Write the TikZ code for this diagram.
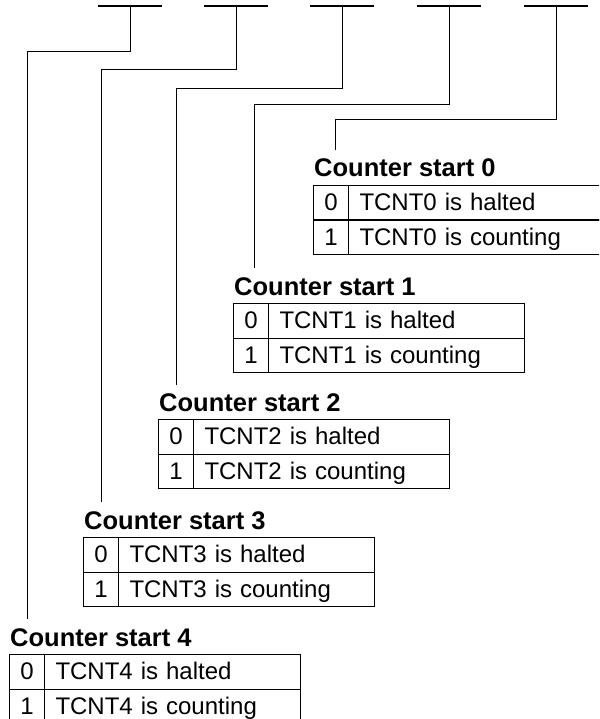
\documentclass[tikz,border=0pt]{standalone}
\usepackage{fontspec}
\setmainfont{Liberation Sans}
\begin{document}
\begin{tikzpicture}[x=1pt,y=-1pt,
  wire/.style={line width=1pt},
  bar/.style={line width=1.3pt},
  cellfont/.style={font=\fontsize{24}{28}\selectfont},
  numcell/.style={draw, line width=1pt, rectangle, minimum width=35pt, minimum height=34.5pt,
    inner sep=0pt, text height=18pt, text depth=2pt, anchor=north west, cellfont},
  txtcell/.style={draw, line width=1pt, rectangle, minimum width=256pt, minimum height=34.5pt,
    inner xsep=11pt, inner ysep=0pt, text width=234pt, align=left, text height=18pt, text depth=2pt,
    anchor=north west, cellfont},
  titletext/.style={anchor=base west, inner sep=0pt, font=\bfseries\fontsize{25.5}{30}\selectfont}]
\useasboundingbox (0,0) rectangle (599,719);
\clip (0,0) rectangle (599,719);

% register bars
\foreach \j/\cx in {1/130,2/236,3/342,4/449,5/556}{
  \draw[bar] ({\cx-32},6) -- ({\cx+32},6);
  \coordinate (b\j) at (\cx,6);
}

% tables
\foreach \i/\lx/\ty in {0/313/185, 1/233/303, 2/158/419, 3/83/537, 4/9/654}{
  \node[titletext] (title\i) at ({\lx+1},{\ty-8}) {Counter start \i};
  \node[numcell] (n\i a) at (\lx,\ty) {0};
  \node[txtcell] (t\i a) at ({\lx+35},\ty) {TCNT\i\ is halted};
  \node[numcell] (n\i b) at (\lx,{\ty+34.5}) {1};
  \node[txtcell] (t\i b) at ({\lx+35},{\ty+34.5}) {TCNT\i\ is counting};
}

% connector ends
\coordinate (e4) at (27,619);
\coordinate (e3) at (101,502);
\coordinate (e2) at (176,385);
\coordinate (e1) at (254,268);
\coordinate (e0) at (335,150);

\draw[wire] (b1) -- ++(0,46) -| (e4);
\draw[wire] (b2) -- ++(0,64) -| (e3);
\draw[wire] (b3) -- ++(0,83) -| (e2);
\draw[wire] (b4) -- ++(0,99) -| (e1);
\draw[wire] (b5) -- ++(0,114) -| (e0);
\end{tikzpicture}
\end{document}
